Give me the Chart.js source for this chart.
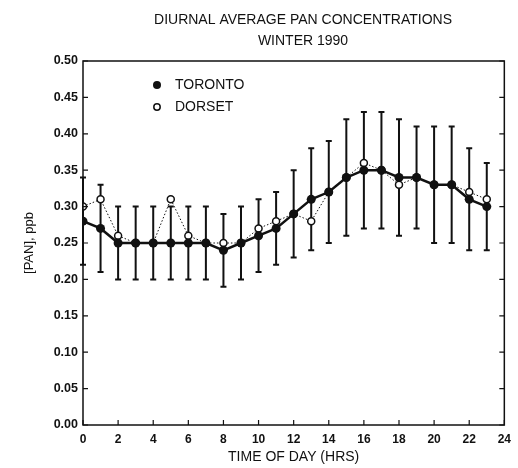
<!DOCTYPE html>
<html>
<head>
<meta charset="utf-8">
<script src="https://cdn.jsdelivr.net/npm/chart.js@4.4.1/dist/chart.umd.min.js"></script>
<style>
  html, body { margin: 0; padding: 0; background: #fff; }
  #wrap { width: 518px; height: 468px; }
</style>
</head>
<body>
<div id="wrap"><canvas id="pan-chart"></canvas></div>
<script>
const hours = [0, 1, 2, 3, 4, 5, 6, 7, 8, 9, 10, 11, 12, 13, 14, 15, 16, 17, 18, 19, 20, 21, 22, 23];
const toronto = [0.28, 0.27, 0.25, 0.25, 0.25, 0.25, 0.25, 0.25, 0.24, 0.25, 0.26, 0.27, 0.29, 0.31, 0.32, 0.34, 0.35, 0.35, 0.34, 0.34, 0.33, 0.33, 0.31, 0.30];
const dorset = [0.30, 0.31, 0.26, 0.25, 0.25, 0.31, 0.26, 0.25, 0.25, 0.25, 0.27, 0.28, 0.29, 0.28, 0.32, 0.34, 0.36, 0.35, 0.33, 0.34, 0.33, 0.33, 0.32, 0.31];
const errLow = [0.22, 0.21, 0.20, 0.20, 0.20, 0.20, 0.20, 0.20, 0.19, 0.20, 0.21, 0.22, 0.23, 0.24, 0.25, 0.26, 0.27, 0.27, 0.26, 0.27, 0.25, 0.25, 0.24, 0.24];
const errHigh = [0.34, 0.33, 0.30, 0.30, 0.30, 0.30, 0.30, 0.30, 0.29, 0.30, 0.31, 0.32, 0.35, 0.38, 0.39, 0.42, 0.43, 0.43, 0.42, 0.41, 0.41, 0.41, 0.38, 0.36];
const titleLines = ['DIURNAL AVERAGE PAN CONCENTRATIONS', 'WINTER 1990'];
const legendLabels = ['TORONTO', 'DORSET'];

const ink = '#111';
const fontFamily = '"Liberation Sans", Arial, sans-serif';

const toPoints = (values) => hours.map((h, i) => ({ x: h, y: values[i] }));

// title, error bars, frame with inward ticks, legend inside the plot
const paperPlugin = {
  id: 'paper',
  beforeDatasetsDraw(chart) {
    const { ctx, scales: { x, y } } = chart;
    ctx.save();
    ctx.strokeStyle = ink;
    ctx.lineWidth = 2;
    hours.forEach((h, i) => {
      const px = x.getPixelForValue(h);
      const top = y.getPixelForValue(errHigh[i]);
      const bottom = y.getPixelForValue(errLow[i]);
      ctx.beginPath();
      ctx.moveTo(px, top);
      ctx.lineTo(px, bottom);
      ctx.moveTo(px - 3, top);
      ctx.lineTo(px + 3, top);
      ctx.moveTo(px - 3, bottom);
      ctx.lineTo(px + 3, bottom);
      ctx.stroke();
    });
    ctx.restore();
  },
  afterDraw(chart) {
    const { ctx, chartArea: a, scales: { x, y } } = chart;
    ctx.save();

    ctx.fillStyle = ink;
    ctx.font = '14px ' + fontFamily;
    ctx.textAlign = 'center';
    ctx.textBaseline = 'middle';
    ctx.fillText(titleLines[0], 303, 20);
    ctx.fillText(titleLines[1], 303, 41.5);

    ctx.strokeStyle = ink;
    ctx.lineWidth = 1.5;
    ctx.strokeRect(a.left, a.top, a.right - a.left, a.bottom - a.top);

    ctx.lineWidth = 1.2;
    ctx.beginPath();
    y.ticks.forEach((t) => {
      const py = y.getPixelForValue(t.value);
      ctx.moveTo(a.left, py);
      ctx.lineTo(a.left + 5, py);
      ctx.moveTo(a.right, py);
      ctx.lineTo(a.right - 5, py);
    });
    x.ticks.forEach((t) => {
      const px = x.getPixelForValue(t.value);
      ctx.moveTo(px, a.bottom);
      ctx.lineTo(px, a.bottom - 5);
    });
    ctx.stroke();

    // legend
    const lx = a.left + 74;
    const ly = a.top + 24;
    ctx.textAlign = 'left';
    ctx.beginPath();
    ctx.arc(lx, ly, 4, 0, Math.PI * 2);
    ctx.fill();
    ctx.fillText(legendLabels[0], lx + 18, ly);
    ctx.beginPath();
    ctx.arc(lx, ly + 22, 3.2, 0, Math.PI * 2);
    ctx.fillStyle = '#fff';
    ctx.fill();
    ctx.lineWidth = 1.5;
    ctx.stroke();
    ctx.fillStyle = ink;
    ctx.fillText(legendLabels[1], lx + 18, ly + 22);
    ctx.restore();
  }
};

const panConfig = {
  type: 'line',
  data: {
    datasets: [{
      label: legendLabels[0],
      data: toPoints(toronto),
      borderColor: ink,
      borderWidth: 2.5,
      backgroundColor: ink,
      pointRadius: 4.5,
      pointBorderWidth: 0,
      pointBackgroundColor: ink,
      tension: 0
    }, {
      label: legendLabels[1],
      data: toPoints(dorset),
      borderColor: ink,
      borderWidth: 1,
      borderDash: [1.5, 2],
      pointRadius: 3.5,
      pointBorderWidth: 1.5,
      pointBorderColor: ink,
      pointBackgroundColor: '#fff',
      tension: 0
    }]
  },
  options: {
    responsive: true,
    maintainAspectRatio: false,
    animation: false,
    layout: {
      padding: { left: 0, right: 6, top: 61, bottom: 0 }
    },
    scales: {
      x: {
        type: 'linear',
        min: 0,
        max: 24,
        grid: { display: false, drawTicks: false },
        border: { display: false },
        ticks: {
          stepSize: 2,
          padding: 7,
          color: ink,
          font: { family: fontFamily, size: 12, weight: 'bold' }
        },
        title: {
          display: true,
          text: 'TIME OF DAY (HRS)',
          color: ink,
          font: { family: fontFamily, size: 14 },
          padding: { top: 4, bottom: 2 }
        },
        afterFit: (scale) => { scale.height = 43; }
      },
      y: {
        min: 0,
        max: 0.5,
        grid: { display: false, drawTicks: false },
        border: { display: false },
        ticks: {
          stepSize: 0.05,
          padding: 5,
          color: ink,
          font: { family: fontFamily, size: 12.5, weight: 'bold' },
          callback: (v) => v.toFixed(2)
        },
        title: {
          display: true,
          text: '[PAN], ppb',
          color: ink,
          font: { family: fontFamily, size: 13 },
          padding: { top: 22, bottom: 0 }
        },
        afterFit: (scale) => { scale.width = 83; }
      }
    },
    plugins: {
      legend: { display: false },
      tooltip: { enabled: false },
      title: { display: false }
    }
  },
  plugins: [paperPlugin]
};

new Chart(document.querySelector('#pan-chart'), panConfig);
</script>
</body>
</html>
